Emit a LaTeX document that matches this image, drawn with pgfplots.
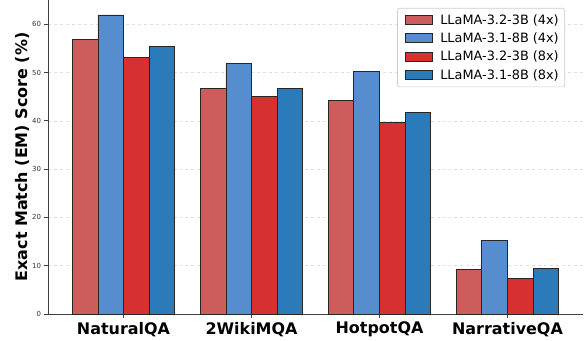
\documentclass[border=0pt]{standalone}
\usepackage{fontspec}
\setmainfont{DejaVu Sans}
\usepackage{pgfplots}
\pgfplotsset{compat=1.18}
\definecolor{cA}{HTML}{CD5C5C}
\definecolor{cB}{HTML}{568DCF}
\definecolor{cC}{HTML}{D73031}
\definecolor{cD}{HTML}{2B7BBA}
\begin{document}
\begin{tikzpicture}
\begin{axis}[
  scale only axis, width=535bp, height=314bp,
  at={(0,0)}, anchor=south west,
  xmin=-0.59, xmax=3.59, ymin=0, ymax=65,
  axis x line*=bottom, axis y line*=left,
  axis line style={black!75, line width=0.8bp},
  xtick={0,1,2,3},
  xticklabels={NaturalQA,2WikiMQA,HotpotQA,NarrativeQA},
  x tick label style={font=\fontsize{16}{18}\selectfont\bfseries, yshift=-1bp},
  ytick={0,10,20,30,40,50,60},
  y tick label style={font=\fontsize{7}{8}\selectfont, text=black!80},
  /pgf/number format/assume math mode=true,
  tick style={black!75, line width=0.6bp},
  tick align=outside, major tick length=3.5bp,
  ymajorgrids, grid style={dashed, black!12, line width=0.5bp},
  ylabel={Exact Match (EM) Score (\%)},
  ylabel style={font=\fontsize{16}{18}\selectfont\bfseries, at={(-26bp,157bp)}, anchor=center, rotate=0},
  ybar, bar width=25.6bp,
  legend style={at={(517bp,306bp)}, anchor=north east, draw=black!20, rounded corners=2bp,
    font=\fontsize{12.9}{14}\selectfont, row sep=3.2bp, inner xsep=4bp, inner ysep=4bp,
    cells={anchor=west}, line width=0.6bp},
  legend image code/.code={\path (-3bp,0bp) (33bp,0bp);\draw[#1, sharp corners, line width=0.8bp] (0bp,-4.5bp) rectangle (27bp,4.5bp);},
]
\addplot[fill=cA, draw=black!85, line width=0.8bp, bar shift=-38.4bp] coordinates {(0,56.8) (1,46.7) (2,44.2) (3,9.3)};
\addplot[fill=cB, draw=black!85, line width=0.8bp, bar shift=-12.8bp] coordinates {(0,61.9) (1,51.9) (2,50.2) (3,15.2)};
\addplot[fill=cC, draw=black!85, line width=0.8bp, bar shift=12.8bp] coordinates {(0,53.1) (1,45.1) (2,39.7) (3,7.3)};
\addplot[fill=cD, draw=black!85, line width=0.8bp, bar shift=38.4bp] coordinates {(0,55.4) (1,46.7) (2,41.8) (3,9.5)};
\legend{LLaMA-3.2-3B (4x),LLaMA-3.1-8B (4x),LLaMA-3.2-3B (8x),LLaMA-3.1-8B (8x)}
\end{axis}
\pgfresetboundingbox
\useasboundingbox (-48bp,-27bp) rectangle (537bp,314bp);
\end{tikzpicture}
\end{document}
